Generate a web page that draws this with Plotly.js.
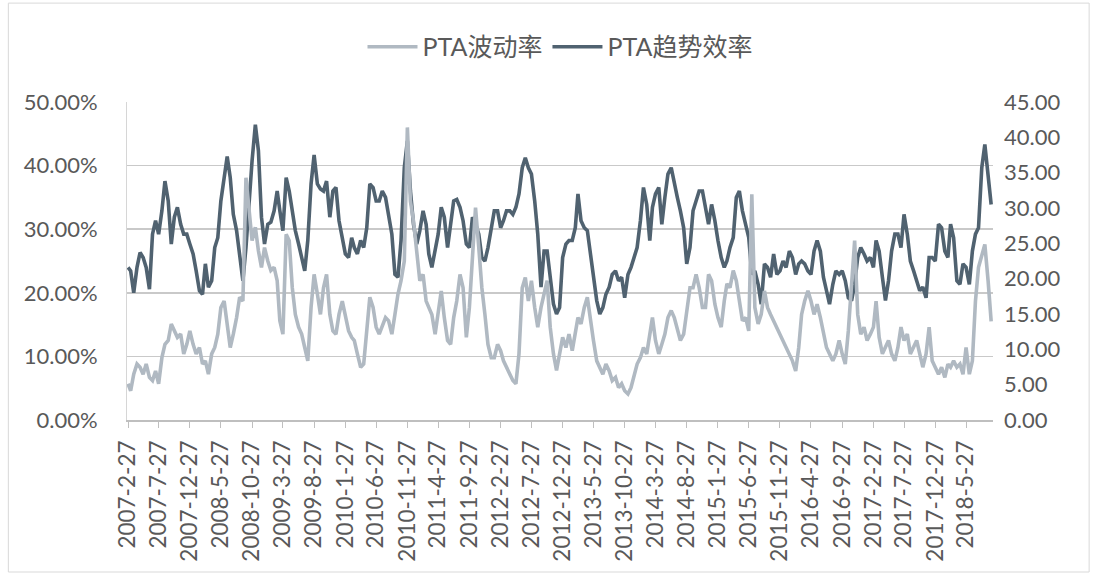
<!DOCTYPE html>
<html><head><meta charset="utf-8">
<script src="https://cdn.plot.ly/plotly-3.0.1.min.js"></script>
<style>html,body{margin:0;padding:0;background:#fff}#chart{width:1095px;height:574px}</style>
</head><body><div id="chart"></div>
<script>
// Samples twice a month (27th and 12th), starting 2007-02-27
const startYear = 2007, startMonth = 2;

// PTA波动率 (%), left axis
const volatility = [
 5.7, 4.6, 7.2, 8.8, 8.3, 7.2, 8.8, 6.7, 6.2, 7.7,
 5.7, 9.8, 11.9, 12.5, 15.1, 14.0, 13.0, 13.5, 10.4, 11.9,
 14.0, 11.9, 10.4, 11.4, 8.8, 9.3, 7.2, 10.4, 11.4, 13.5,
 17.7, 18.7, 14.6, 11.4, 13.5, 16.1, 19.3, 18.7, 38.1, 32.9,
 28.2, 30.3, 26.6, 24.0, 27.1, 25.0, 23.5, 24.0, 21.9, 15.6,
 13.5, 29.2, 28.2, 20.8, 16.6, 14.6, 13.5, 11.4, 9.3, 17.7,
 22.9, 19.8, 16.6, 20.8, 22.9, 16.6, 14.0, 13.5, 16.6, 18.7,
 16.6, 14.0, 13.0, 12.5, 10.4, 8.3, 8.8, 13.5, 19.3, 17.7,
 14.6, 13.5, 14.6, 16.1, 15.6, 13.5, 16.6, 19.8, 21.9, 25.0,
 46.0, 34.4, 31.3, 26.6, 21.9, 22.9, 18.7, 17.7, 16.6, 13.5,
 17.2, 20.3, 16.1, 12.5, 11.9, 16.1, 18.7, 22.9, 20.8, 13.0,
 17.7, 26.1, 33.4, 27.1, 20.8, 16.6, 11.9, 9.8, 9.8, 11.9,
 10.9, 9.3, 8.3, 7.2, 6.2, 5.7, 10.4, 20.8, 22.4, 18.7,
 21.9, 17.7, 14.6, 17.7, 19.8, 21.9, 14.6, 10.4, 7.8, 10.4,
 13.0, 11.4, 13.5, 10.9, 13.5, 16.1, 15.1, 17.7, 19.3, 15.6,
 12.5, 9.3, 8.3, 7.2, 8.8, 7.7, 6.2, 6.7, 5.1, 5.7,
 4.6, 4.1, 5.1, 7.2, 8.8, 9.8, 11.4, 10.4, 13.5, 16.1,
 12.5, 10.4, 11.9, 13.5, 16.1, 17.2, 16.1, 14.0, 12.5, 13.5,
 16.6, 20.8, 20.8, 22.9, 20.8, 17.7, 17.7, 22.9, 21.9, 18.2,
 16.1, 14.6, 18.7, 21.4, 20.8, 23.5, 21.9, 18.7, 15.6, 16.1,
 14.0, 35.5, 17.7, 15.1, 16.6, 20.3, 17.7, 16.6, 15.6, 14.6,
 13.5, 12.5, 11.4, 10.4, 9.3, 7.7, 11.4, 16.6, 18.7, 20.3,
 18.7, 16.6, 18.2, 16.1, 13.5, 11.4, 10.4, 9.3, 10.4, 12.5,
 10.4, 8.8, 14.0, 20.8, 28.2, 16.6, 13.5, 14.6, 12.5, 13.5,
 14.6, 18.7, 13.0, 10.4, 11.4, 12.5, 10.4, 9.3, 11.4, 14.6,
 12.5, 13.5, 10.4, 11.4, 12.5, 10.4, 8.3, 10.4, 14.6, 9.3,
 8.3, 7.2, 8.3, 6.7, 8.8, 8.3, 9.3, 8.3, 8.8, 7.2,
 11.4, 7.2, 9.3, 18.7, 24.0, 26.1, 27.6, 21.9, 15.5
];

// PTA趋势效率, right axis
const trendEfficiency = [
 21.6, 21.1, 18.0, 21.6, 23.7, 23.0, 21.6, 18.5, 26.3, 28.2,
 26.3, 29.6, 33.8, 31.0, 24.9, 28.7, 30.1, 27.7, 26.3, 26.3,
 24.9, 23.5, 21.1, 18.3, 17.8, 22.1, 18.8, 19.7, 24.4, 25.8,
 31.0, 34.3, 37.3, 34.3, 29.1, 26.8, 23.5, 19.7, 24.4, 31.0,
 36.7, 41.8, 38.1, 28.7, 24.9, 27.7, 28.0, 29.6, 32.4, 29.6,
 26.8, 34.3, 32.4, 29.6, 26.8, 24.9, 23.0, 21.1, 25.4, 33.4,
 37.5, 33.4, 32.7, 32.4, 33.8, 28.7, 32.4, 32.9, 28.2, 25.4,
 23.5, 23.0, 25.8, 24.4, 23.5, 25.4, 24.4, 27.2, 33.4, 32.9,
 31.0, 31.0, 32.4, 31.5, 29.1, 26.3, 20.6, 20.2, 25.4, 35.7,
 39.5, 32.4, 27.7, 24.9, 26.8, 29.6, 27.7, 23.5, 21.6, 24.4,
 26.3, 30.1, 28.7, 24.4, 28.2, 31.0, 31.2, 30.1, 28.2, 24.9,
 24.4, 28.7, 27.7, 26.3, 23.0, 22.5, 24.4, 26.8, 29.6, 29.6,
 27.2, 28.2, 29.6, 29.6, 29.1, 30.1, 32.0, 35.7, 37.1, 35.7,
 34.8, 31.0, 26.3, 18.8, 23.9, 23.9, 19.7, 16.4, 15.0, 15.9,
 23.0, 24.9, 25.4, 25.4, 27.2, 32.0, 28.2, 27.2, 26.8, 23.5,
 19.7, 16.9, 15.0, 15.9, 17.8, 18.8, 20.6, 21.1, 19.7, 20.2,
 17.3, 20.6, 21.6, 23.0, 24.4, 28.2, 32.9, 30.5, 25.4, 30.1,
 32.0, 32.9, 27.7, 31.5, 34.8, 35.7, 33.4, 31.5, 29.6, 27.2,
 22.1, 24.4, 29.6, 31.0, 32.4, 32.4, 30.1, 27.7, 30.5, 28.2,
 25.4, 23.0, 21.6, 22.5, 24.4, 25.8, 31.5, 32.4, 29.6, 27.7,
 25.8, 20.6, 21.1, 19.2, 16.4, 22.1, 21.6, 20.2, 23.5, 20.6,
 21.1, 22.5, 21.6, 23.9, 23.0, 20.6, 22.1, 22.5, 22.1, 21.1,
 20.6, 23.9, 25.4, 23.9, 20.2, 18.3, 16.4, 19.2, 21.1, 20.6,
 21.1, 19.7, 17.3, 16.9, 19.2, 23.0, 24.4, 23.5, 22.5, 23.0,
 21.6, 25.4, 23.9, 20.2, 16.9, 19.7, 23.9, 26.3, 26.3, 24.4,
 29.1, 26.3, 22.5, 21.1, 19.7, 18.3, 18.8, 17.3, 23.0, 23.0,
 22.5, 27.7, 27.2, 23.9, 23.0, 27.7, 25.8, 19.7, 19.2, 22.1,
 21.6, 19.2, 23.9, 26.3, 27.2, 35.7, 39.0, 34.5, 30.5
];

const tickLabels = [
 '2007-2-27','2007-7-27','2007-12-27','2008-5-27','2008-10-27','2009-3-27','2009-8-27',
 '2010-1-27','2010-6-27','2010-11-27','2011-4-27','2011-9-27','2012-2-27','2012-7-27',
 '2012-12-27','2013-5-27','2013-10-27','2014-3-27','2014-8-27','2015-1-27','2015-6-27',
 '2015-11-27','2016-4-27','2016-9-27','2017-2-27','2017-7-27','2017-12-27','2018-5-27'
];

const seriesNames = ['PTA波动率', 'PTA趋势效率'];

function pad(n){ return (n < 10 ? '0' : '') + n; }
const dates = [];
for (let i = 0; i < volatility.length; i++) {
  const k = Math.ceil(i / 2);
  const m0 = startMonth - 1 + k;
  const y = startYear + Math.floor(m0 / 12), m = m0 % 12 + 1;
  dates.push(y + '-' + pad(m) + '-' + (i % 2 === 0 ? '27' : '12'));
}

const data = [
  { x: dates, y: volatility, name: seriesNames[0], type: 'scatter', mode: 'lines',
    yaxis: 'y2', line: { color: '#b0b9c2', width: 3.6 }, hoverinfo: 'skip' },
  { x: dates, y: trendEfficiency, name: seriesNames[1], type: 'scatter', mode: 'lines',
    yaxis: 'y', line: { color: '#506270', width: 3.6 }, hoverinfo: 'skip' }
];

const layout = {
  width: 1095, height: 574,
  margin: { l: 127, r: 102, t: 102, b: 154 },
  paper_bgcolor: '#ffffff', plot_bgcolor: 'rgba(0,0,0,0)',
  font: { family: 'Lato, "Noto Sans CJK SC", sans-serif', size: 22, color: '#595959' },
  showlegend: true,
  legend: { orientation: 'h', x: 0.5, xanchor: 'center', y: 1.173, yanchor: 'middle',
    font: { size: 25, color: '#595959' }, itemwidth: 50, traceorder: 'normal',
    bgcolor: 'rgba(0,0,0,0)' },
  xaxis: { type: 'date', range: ['2007-02-22', '2018-10-06'],
    tickmode: 'array', tickvals: tickLabels, ticktext: tickLabels, tickangle: -90,
    ticks: 'outside', ticklen: 6, tickcolor: '#bfbfbf', showline: true, linecolor: '#bfbfbf',
    linewidth: 1.5, showgrid: false, zeroline: false, ticklabelstandoff: 4,
    tickfont: { size: 22.5, color: '#595959' } },
  yaxis: { side: 'right', range: [0, 45], dtick: 5, tick0: 0, tickformat: '.2f',
    showgrid: false, zeroline: false, showline: false, ticks: '', ticklabelstandoff: 10 },
  yaxis2: { side: 'left', overlaying: 'y', range: [0, 50], dtick: 10, tick0: 0, tickformat: '.2f',
    ticksuffix: '%', showgrid: true, gridcolor: '#c9c9c9', gridwidth: 1.5, zeroline: false,
    showline: true, linecolor: '#d6d6d6', ticks: '', ticklabelstandoff: 24 },
  shapes: [{ type: 'rect', xref: 'paper', yref: 'paper', x0: -0.137, x1: 1.111, y0: -0.478, y1: 1.311,
    line: { color: '#d9d9d9', width: 1 }, fillcolor: 'rgba(0,0,0,0)', layer: 'below' }]
};

Plotly.newPlot('chart', data, layout, { displayModeBar: false, staticPlot: true });
</script>
</body></html>
